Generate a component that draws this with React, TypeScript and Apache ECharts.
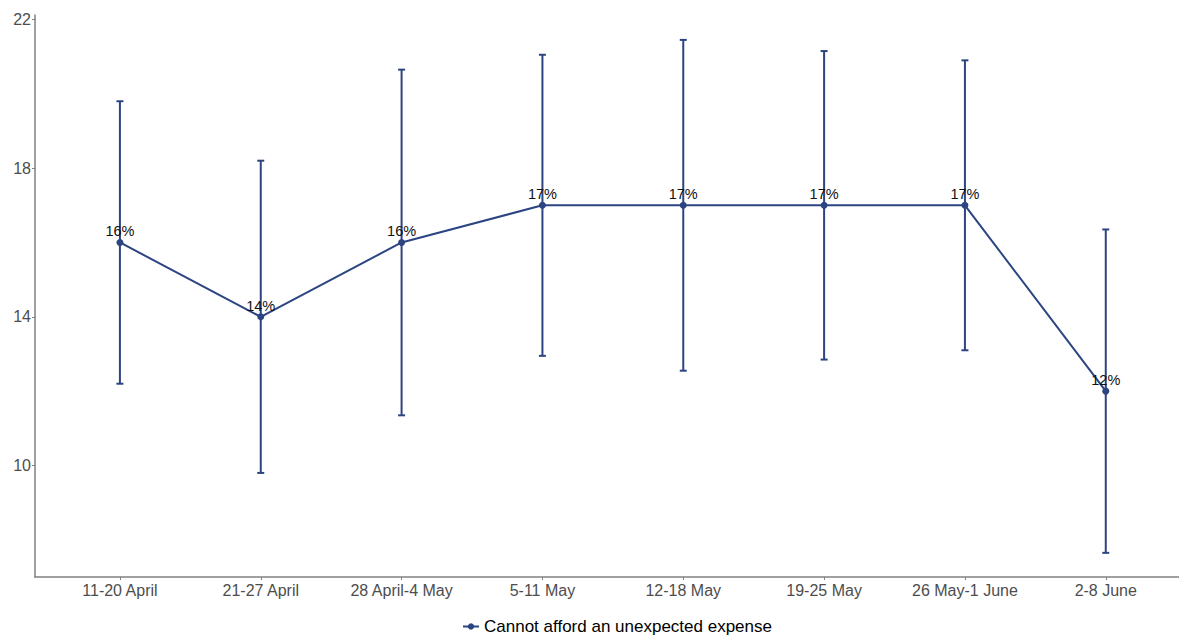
import React, { useEffect, useRef } from "react";
import * as echarts from "echarts";

const categories = ["11-20 April", "21-27 April", "28 April-4 May", "5-11 May", "12-18 May", "19-25 May", "26 May-1 June", "2-8 June"];
const values = [16, 14, 16, 17, 17, 17, 17, 12];
const upper = [19.8, 18.2, 20.65, 21.05, 21.45, 21.15, 20.9, 16.35];
const lower = [12.2, 9.8, 11.35, 12.95, 12.55, 12.85, 13.1, 7.65];
const yTicks = [10, 14, 18, 22];
const seriesName = "Cannot afford an unexpected expense";
const COLOR = "#2c4582";

export default function App() {
  const ref = useRef<HTMLDivElement>(null);
  useEffect(() => {
    document.body.style.margin = "0";
    const chart = echarts.init(ref.current!, null, { renderer: "svg" });
    const idx = categories.map((_, i) => i);
    chart.setOption({
      animation: false,
      backgroundColor: "#ffffff",
      grid: { left: 35, right: 0, top: 15, bottom: 59, containLabel: false },
      legend: {
        data: [seriesName],
        top: 618,
        left: 462,
        padding: 0,
        itemWidth: 16,
        itemHeight: 8,
        itemGap: 6,
        textStyle: { fontFamily: "Liberation Sans, Arial", fontSize: 17, color: "#000" },
      },
      xAxis: {
        type: "value",
        min: -0.603,
        max: 7.52,
        splitLine: { show: false },
        axisLine: { show: true, onZero: false, lineStyle: { color: "#808080", width: 1.5 } },
        axisTick: { show: true, length: 3, customValues: idx, lineStyle: { color: "#808080" } },
        axisLabel: {
          customValues: idx,
          formatter: (v: number) => categories[Math.round(v)] ?? "",
          fontFamily: "Liberation Sans, Arial",
          fontSize: 16,
          color: "#4d4d4d",
          margin: 5,
        },
      },
      yAxis: {
        type: "value",
        min: 7,
        max: 22.12,
        splitLine: { show: false },
        axisLine: { show: true, onZero: false, lineStyle: { color: "#808080", width: 1.5 } },
        axisTick: { show: true, length: 3, customValues: yTicks, lineStyle: { color: "#808080" } },
        axisLabel: {
          customValues: yTicks,
          fontFamily: "Liberation Sans, Arial",
          fontSize: 16,
          color: "#4d4d4d",
          margin: 4,
        },
      },
      series: [
        {
          type: "custom",
          name: "ci",
          data: idx.map((i) => [i, lower[i], upper[i]]),
          renderItem: (params: any, api: any) => {
            const x = api.value(0);
            const lo = api.coord([x, api.value(1)]);
            const hi = api.coord([x, api.value(2)]);
            const w = 3.5;
            const style = { stroke: COLOR, lineWidth: 2 };
            return {
              type: "group",
              children: [
                { type: "line", shape: { x1: lo[0], y1: lo[1], x2: hi[0], y2: hi[1] }, style },
                { type: "line", shape: { x1: lo[0] - w, y1: lo[1], x2: lo[0] + w, y2: lo[1] }, style },
                { type: "line", shape: { x1: hi[0] - w, y1: hi[1], x2: hi[0] + w, y2: hi[1] }, style },
              ],
            };
          },
          z: 2,
        },
        {
          type: "line",
          name: seriesName,
          data: idx.map((i) => [i, values[i]]),
          symbol: "circle",
          symbolSize: 7,
          itemStyle: { color: COLOR },
          lineStyle: { color: COLOR, width: 2 },
          label: {
            show: true,
            position: "top",
            distance: 0,
            formatter: (p: any) => `${p.value[1]}%`,
            fontFamily: "Liberation Sans, Arial",
            fontSize: 14.5,
            color: "#111",
          },
          z: 3,
        },
      ],
    });
    return () => chart.dispose();
  }, []);
  return <div ref={ref} style={{ width: 1179, height: 636 }} />;
}
